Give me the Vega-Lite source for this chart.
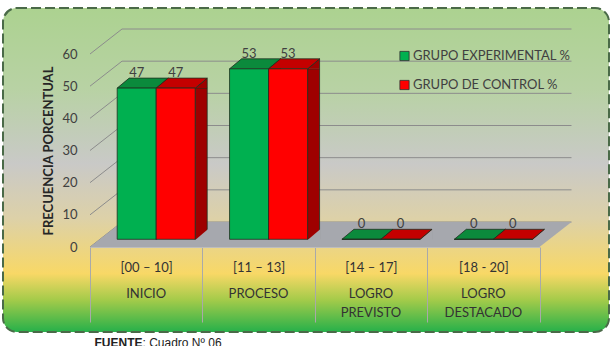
{
  "$schema": "https://vega.github.io/schema/vega-lite/v6.json",
  "width": 606,
  "height": 324,
  "autosize": {"type": "none"},
  "padding": {"left": 3, "top": 8, "right": 6, "bottom": 14},
  "background": "#ffffff",
  "view": {
    "fill": {
      "gradient": "linear",
      "x1": 0, "y1": 0, "x2": 0, "y2": 1,
      "stops": [
        {"offset": 0, "color": "#acd290"},
        {"offset": 0.25, "color": "#b8d2a4"},
        {"offset": 0.48, "color": "#c9c9c7"},
        {"offset": 0.65, "color": "#ddd1a8"},
        {"offset": 0.82, "color": "#f8d866"},
        {"offset": 0.9, "color": "#a5cb4a"},
        {"offset": 1, "color": "#26b04a"}
      ]
    },
    "stroke": "#4a6a48",
    "strokeWidth": 2,
    "strokeDash": [10, 4],
    "cornerRadius": 14
  },
  "config": {"font": "Lato"},
  "layer": [
    {
      "layer": [
        {
          "data": {"values": [{"v": 0}, {"v": 10}, {"v": 20}, {"v": 30}, {"v": 40}, {"v": 50}, {"v": 60}]},
          "mark": {"type": "point", "shape": "M 0 0 L 32 -25 L 481.5 -25", "size": 4, "filled": false, "stroke": "#8c8c8c", "strokeWidth": 1, "opacity": 1},
          "encoding": {
            "x": {
              "datum": "INICIO",
              "type": "nominal",
              "bandPosition": 0,
              "scale": {"type": "band", "domain": ["INICIO", "PROCESO", "LOGRO PREVISTO", "LOGRO DESTACADO"], "range": [87, 536.5], "paddingInner": 0, "paddingOuter": 0},
              "axis": {
                "orient": "bottom",
                "offset": -85,
                "grid": false,
                "domain": true,
                "domainColor": "#bdbdbd",
                "domainWidth": 1,
                "ticks": true,
                "tickBand": "extent",
                "tickSize": 75,
                "tickColor": "#a9a9a9",
                "tickWidth": 1,
                "labelPadding": -61,
                "labelAngle": 0,
                "labelOverlap": false,
                "labelFont": "Lato",
                "labelFontSize": 13,
                "labelColor": "#333333",
                "labelBaseline": "top",
                "labelExpr": "datum.value == null ? '' : datum.value == 'INICIO' ? '[00 – 10]' : datum.value == 'PROCESO' ? '[11 – 13]' : datum.value == 'LOGRO PREVISTO' ? '[14 – 17]' : '[18 - 20]'",
                "title": ": Cuadro Nº 06",
                "titleX": 139,
                "titleY": 99,
                "titleAngle": 0,
                "titleAlign": "left",
                "titleBaseline": "alphabetic",
                "titleFont": "Liberation Sans",
                "titleFontSize": 12,
                "titleFontWeight": "normal",
                "titleColor": "#222222"
              }
            },
            "y": {
              "field": "v",
              "type": "quantitative",
              "scale": {"domain": [0, 60], "range": [239, 46], "nice": false},
              "axis": {
                "orient": "left",
                "offset": -87,
                "values": [0, 10, 20, 30, 40, 50, 60],
                "grid": false,
                "domain": false,
                "ticks": false,
                "labelPadding": 13,
                "labelFont": "Lato",
                "labelFontSize": 13,
                "labelColor": "#404040",
                "title": "FRECUENCIA PORCENTUAL",
                "titleFont": "Lato",
                "titleFontSize": 13,
                "titleFontWeight": "bold",
                "titleColor": "#262626",
                "titleAngle": -90,
                "titleX": -42,
                "titleY": 142.5,
                "titleAlign": "center",
                "titleBaseline": "middle"
              }
            }
          }
        },
        {
          "data": {"values": [{"v": 0}]},
          "mark": {"type": "point", "shape": "M 0 0 L 449.5 0 L 481.5 -25 L 32 -25 Z", "size": 4, "filled": true, "fill": "#a6a8ae", "strokeWidth": 0, "opacity": 1},
          "encoding": {
            "x": {
              "datum": "INICIO",
              "type": "nominal",
              "bandPosition": 0,
              "axis": {
                "orient": "bottom",
                "offset": -85,
                "grid": false,
                "domain": false,
                "ticks": false,
                "labelPadding": 40.5,
                "labelAngle": 0,
                "labelOverlap": false,
                "labelFont": "Lato",
                "labelFontSize": 13,
                "labelColor": "#333333",
                "labelBaseline": "top",
                "labelLineHeight": 19,
                "labelExpr": "datum.value == null ? '' : split(datum.value, ' ')",
                "title": null
              }
            },
            "y": {"field": "v", "type": "quantitative"}
          }
        }
      ],
      "resolve": {"axis": {"x": "independent"}}
    },
    {
      "data": {
        "values": [
          {"nivel": "INICIO", "grupo": "GRUPO EXPERIMENTAL %", "valor": 47},
          {"nivel": "INICIO", "grupo": "GRUPO DE CONTROL %", "valor": 47},
          {"nivel": "PROCESO", "grupo": "GRUPO EXPERIMENTAL %", "valor": 53},
          {"nivel": "PROCESO", "grupo": "GRUPO DE CONTROL %", "valor": 53},
          {"nivel": "LOGRO PREVISTO", "grupo": "GRUPO EXPERIMENTAL %", "valor": 0},
          {"nivel": "LOGRO PREVISTO", "grupo": "GRUPO DE CONTROL %", "valor": 0},
          {"nivel": "LOGRO DESTACADO", "grupo": "GRUPO EXPERIMENTAL %", "valor": 0},
          {"nivel": "LOGRO DESTACADO", "grupo": "GRUPO DE CONTROL %", "valor": 0}
        ]
      },
      "encoding": {
        "x": {
          "field": "nivel",
          "type": "nominal",
          "scale": {"type": "band", "domain": ["INICIO", "PROCESO", "LOGRO PREVISTO", "LOGRO DESTACADO"], "range": [97, 546.5], "paddingInner": 0, "paddingOuter": 0},
          "axis": {
            "orient": "bottom",
            "offset": 0,
            "grid": false,
            "domain": false,
            "ticks": false,
            "labels": false,
            "title": "FUENTE",
            "titleX": 91,
            "titleY": 14,
            "titleAngle": 0,
            "titleAlign": "left",
            "titleBaseline": "alphabetic",
            "titleFont": "Liberation Sans",
            "titleFontSize": 12,
            "titleFontWeight": "bold",
            "titleColor": "#222222"
          }
        },
        "y": {
          "field": "valor",
          "type": "quantitative",
          "stack": null,
          "scale": {"domain": [0, 60], "range": [231.3, 38.3], "nice": false},
          "axis": null
        }
      },
      "layer": [
        {
          "mark": {"type": "bar", "stroke": "#203020", "strokeWidth": 0.8},
          "encoding": {
            "xOffset": {
              "field": "grupo",
              "type": "nominal",
              "scale": {"type": "band", "domain": ["GRUPO EXPERIMENTAL %", "GRUPO DE CONTROL %"], "paddingInner": 0.6923, "paddingOuter": 0.7868, "align": 0.9155}
            },
            "fill": {"condition": {"test": "datum.grupo === 'GRUPO EXPERIMENTAL %'", "value": "#067a34"}, "value": "#9e0000"}
          }
        },
        {
          "mark": {"type": "point", "shape": "M 19.5 0 L 31.5 -10 L 31.5 0", "size": 4, "filled": true, "opacity": 1, "stroke": "#203020", "strokeWidth": 0.8},
          "encoding": {
            "xOffset": {
              "field": "grupo",
              "type": "nominal",
              "scale": {"type": "band", "domain": ["GRUPO EXPERIMENTAL %", "GRUPO DE CONTROL %"], "paddingInner": 0, "paddingOuter": 0.4407}
            },
            "fill": {"condition": {"test": "datum.grupo === 'GRUPO EXPERIMENTAL %'", "value": "#067a34"}, "value": "#9e0000"}
          }
        },
        {
          "mark": {"type": "point", "shape": "M 19.5 0.6 L 32.5 0.6 L 32.5 -10.4 Z", "size": 4, "filled": true, "opacity": 1, "fill": "#a6a8ae", "strokeWidth": 0},
          "encoding": {
            "xOffset": {
              "field": "grupo",
              "type": "nominal",
              "scale": {"type": "band", "domain": ["GRUPO EXPERIMENTAL %", "GRUPO DE CONTROL %"], "paddingInner": 0, "paddingOuter": 0.4407}
            },
            "y": {"datum": 0, "type": "quantitative"}
          }
        },
        {
          "mark": {"type": "point", "shape": "M -19.5 0 L 19.5 0 L 31.5 -10 L -7.5 -10 Z", "size": 4, "filled": true, "opacity": 1, "stroke": "#203020", "strokeWidth": 0.8},
          "encoding": {
            "xOffset": {
              "field": "grupo",
              "type": "nominal",
              "scale": {"type": "band", "domain": ["GRUPO EXPERIMENTAL %", "GRUPO DE CONTROL %"], "paddingInner": 0, "paddingOuter": 0.4407}
            },
            "fill": {"condition": {"test": "datum.grupo === 'GRUPO EXPERIMENTAL %'", "value": "#0b8a3c"}, "value": "#c40000"}
          }
        },
        {
          "mark": {"type": "bar", "stroke": "#203020", "strokeWidth": 0.8},
          "encoding": {
            "xOffset": {
              "field": "grupo",
              "type": "nominal",
              "scale": {"type": "band", "domain": ["GRUPO EXPERIMENTAL %", "GRUPO DE CONTROL %"], "paddingInner": 0, "paddingOuter": 0.4407}
            },
            "color": {
              "field": "grupo",
              "type": "nominal",
              "scale": {"domain": ["GRUPO EXPERIMENTAL %", "GRUPO DE CONTROL %"], "range": ["#00b050", "#ff0000"]},
              "legend": {
                "title": null,
                "orient": "none",
                "legendX": 395,
                "legendY": 41.5,
                "padding": 0,
                "symbolType": "square",
                "symbolSize": 85,
                "symbolStrokeColor": "#303030",
                "symbolStrokeWidth": 0.8,
                "symbolOpacity": 1,
                "labelFont": "Lato",
                "labelFontSize": 13,
                "labelColor": "#404040",
                "labelOffset": 2,
                "rowPadding": 15
              }
            }
          }
        },
        {
          "mark": {"type": "text", "dy": -15, "fontSize": 13, "font": "Lato", "color": "#404040"},
          "encoding": {
            "xOffset": {
              "field": "grupo",
              "type": "nominal",
              "scale": {"type": "band", "domain": ["GRUPO EXPERIMENTAL %", "GRUPO DE CONTROL %"], "paddingInner": 0, "paddingOuter": 0.4407}
            },
            "text": {"field": "valor", "type": "quantitative"}
          }
        }
      ],
      "resolve": {"scale": {"xOffset": "independent"}}
    }
  ],
  "resolve": {
    "scale": {"x": "independent", "y": "independent"},
    "axis": {"x": "independent", "y": "independent"}
  }
}
